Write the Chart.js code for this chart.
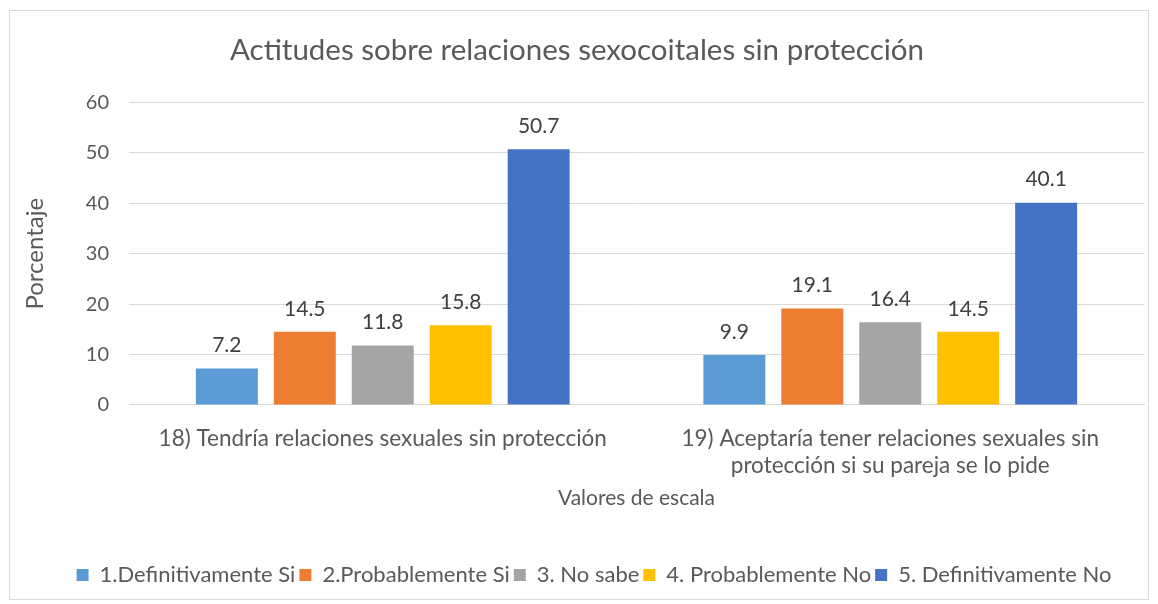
<!DOCTYPE html>
<html>
<head>
<meta charset="utf-8">
<script src="https://cdn.jsdelivr.net/npm/chart.js@4"></script>
<style>
  html, body { margin: 0; padding: 0; background: #fff; }
  #box {
    position: absolute; left: 9px; top: 10px;
    width: 1138px; height: 588px;
    border: 1px solid #d9d9d9;
  }
  #myChart { display: block; }
</style>
</head>
<body>
<div id="box"><canvas id="myChart"></canvas></div>
<script>
const ctx = document.getElementById("myChart").getContext("2d");

const labels = [
    "18) Tendría relaciones sexuales sin protección",
    ["19) Aceptaría tener relaciones sexuales sin", "protección si su pareja se lo pide"],
];

const seriesNames = [
    "1.Definitivamente Si",
    "2.Probablemente Si",
    "3. No sabe",
    "4. Probablemente No",
    "5. Definitivamente No",
];

const definitivamenteSi = [7.2, 9.9];
const probablementeSi = [14.5, 19.1];
const noSabe = [11.8, 16.4];
const probablementeNo = [15.8, 14.5];
const definitivamenteNo = [50.7, 40.1];

const colors = ["#5B9BD5", "#ED7D31", "#A5A5A5", "#FFC000", "#4472C4"];
const yTicks = [0, 10, 20, 30, 40, 50, 60];

const textColor = "#595959";
const fontFamily = "Lato, 'Noto Sans', sans-serif";

const seriesValues = [definitivamenteSi, probablementeSi, noSabe, probablementeNo, definitivamenteNo];

const data = {
    labels,
    datasets: seriesValues.map((values, i) => ({
        label: seriesNames[i],
        data: values,
        backgroundColor: colors[i],
        borderWidth: 0,
        barPercentage: 0.795,
        categoryPercentage: 0.768,
    })),
};

// value labels above each bar
const barLabels = {
    id: "barLabels",
    afterDatasetsDraw(chart) {
        const c = chart.ctx;
        c.save();
        c.font = "21px " + fontFamily;
        c.fillStyle = "#404040";
        c.textAlign = "center";
        c.textBaseline = "middle";
        chart.data.datasets.forEach((ds, i) => {
            chart.getDatasetMeta(i).data.forEach((bar, j) => {
                c.fillText(ds.data[j].toFixed(1), bar.x, bar.y - 23);
            });
        });
        c.restore();
    },
};

// Excel puts the legend a bit right of centre
const legendShift = {
    id: "legendShift",
    afterLayout(chart) {
        chart.legend.left += 17;
        chart.legend.right += 17;
    },
};

const config = {
    type: "bar",
    data: data,
    plugins: [barLabels, legendShift],
    options: {
        responsive: true,
        maintainAspectRatio: false,
        animation: false,
        layout: { padding: { left: 0, right: 4, top: 22, bottom: 3 } },
        plugins: {
            title: {
                display: true,
                text: "Actitudes sobre relaciones sexocoitales sin protección",
                color: textColor,
                font: { family: fontFamily, size: 29.5, weight: "normal" },
                padding: { top: 0, bottom: 34 },
            },
            legend: {
                position: "bottom",
                labels: {
                    color: textColor,
                    font: { family: fontFamily, size: 22 },
                    boxWidth: 12,
                    boxHeight: 12,
                    padding: 4,
                },
            },
            tooltip: { enabled: false },
        },
        scales: {
            x: {
                grid: { display: false },
                border: { color: "#d9d9d9" },
                ticks: {
                    color: textColor,
                    font: { family: fontFamily, size: 22.5, lineHeight: 1.22 },
                    padding: 12,
                    maxRotation: 0,
                },
                title: {
                    display: true,
                    text: "Valores de escala",
                    color: textColor,
                    font: { family: fontFamily, size: 21 },
                    padding: { top: -6, bottom: 49 },
                },
            },
            y: {
                min: 0,
                max: 60,
                afterFit: (scale) => { scale.width = 119; },
                afterBuildTicks: (scale) => { scale.ticks = yTicks.map(v => ({ value: v })); },
                grid: { color: "#d9d9d9", drawTicks: false },
                border: { display: false },
                ticks: {
                    color: textColor,
                    font: { family: fontFamily, size: 20 },
                    padding: 20,
                },
                title: {
                    display: true,
                    text: "Porcentaje",
                    color: textColor,
                    font: { family: fontFamily, size: 24 },
                    padding: { top: 11, bottom: 0 },
                },
            },
        },
    },
};

const myChart = new Chart(ctx, config);
</script>
</body>
</html>
